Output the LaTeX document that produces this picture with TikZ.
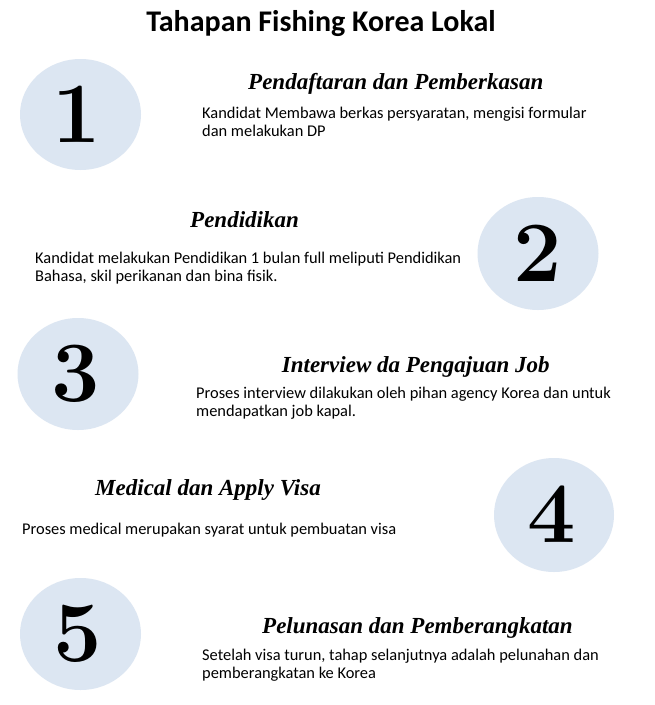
\documentclass[tikz,border=0pt]{standalone}
\usepackage{fontspec}
\setmainfont{Carlito}
\newfontfamily\numfont{Latin Modern Roman}
\newfontfamily\headfont{Liberation Serif}
\definecolor{circfill}{HTML}{DCE6F2}
\tikzset{
  numcirc/.style={fill=circfill, draw=none},
  numtext/.style={anchor=base, inner sep=0pt, font=\numfont\bfseries\fontsize{86}{86}\selectfont},
  headtext/.style={anchor=base west, inner sep=0pt, font=\headfont\bfseries\itshape\fontsize{23}{26}\selectfont},
  bodytext/.style={anchor=base west, inner sep=0pt, font=\fontsize{16.4}{18}\selectfont},
  titletext/.style={anchor=base, inner sep=0pt, font=\bfseries\fontsize{30}{34}\selectfont}
}
\begin{document}
\begin{tikzpicture}[x=1pt,y=-1pt]
\useasboundingbox (0,0) rectangle (655,705);
\fill[white] (0,0) rectangle (655,705);
\node[titletext] (title) at (321,31) {Tahapan Fishing Korea Lokal};

% step 1
\fill[numcirc] (80.5,114.5) ellipse [x radius=60.5, y radius=55.5];
\node[numtext] (n1) at (77,142) {1};
\node[headtext] (h1) at (248,89) {Pendaftaran dan Pemberkasan};
\node[bodytext] (b1a) at (202,118.3) {Kandidat Membawa berkas persyaratan, mengisi formular};
\node[bodytext] (b1b) at (202,136.6) {dan melakukan DP};

% step 2
\fill[numcirc] (538,253.5) ellipse [x radius=60.5, y radius=56.5];
\node[numtext] (n2) at (538,281) {2};
\node[headtext] (h2) at (190,227.5) {Pendidikan};
\node[bodytext] (b2a) at (35,263.3) {Kandidat melakukan Pendidikan 1 bulan full meliputi Pendidikan};
\node[bodytext] (b2b) at (35,281.6) {Bahasa, skil perikanan dan bina fisik.};

% step 3
\fill[numcirc] (78,374) ellipse [x radius=60.5, y radius=56];
\node[numtext] (n3) at (76,401.5) {3};
\node[headtext] (h3) at (281.7,372.5) {Interview da Pengajuan Job};
\node[bodytext] (b3a) at (196,398.3) {Proses interview dilakukan oleh pihan agency Korea dan untuk};
\node[bodytext] (b3b) at (196,416.6) {mendapatkan job kapal.};

% step 4
\fill[numcirc] (554,515) ellipse [x radius=60, y radius=57];
\node[numtext] (n4) at (552,542.5) {4};
\node[headtext] (h4) at (95,495) {Medical dan Apply Visa};
\node[bodytext] (b4a) at (22,534) {Proses medical merupakan syarat untuk pembuatan visa};

% step 5
\fill[numcirc] (80.5,634) ellipse [x radius=60.5, y radius=56];
\node[numtext] (n5) at (78,661.5) {5};
\node[headtext] (h5) at (262,633) {Pelunasan dan Pemberangkatan};
\node[bodytext] (b5a) at (202,660) {Setelah visa turun, tahap selanjutnya adalah pelunahan dan};
\node[bodytext] (b5b) at (202,678.3) {pemberangkatan ke Korea};
\end{tikzpicture}
\end{document}
